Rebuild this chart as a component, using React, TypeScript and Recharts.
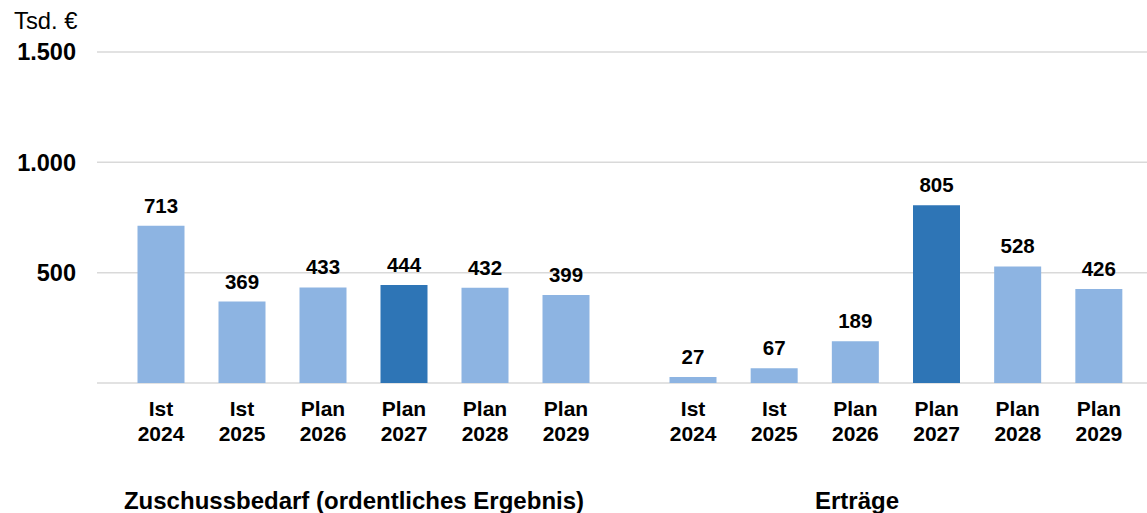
import React from 'react';
import { BarChart, Bar, XAxis, YAxis, CartesianGrid, Cell, LabelList } from 'recharts';

const categories = ['Ist 2024', 'Ist 2025', 'Plan 2026', 'Plan 2027', 'Plan 2028', 'Plan 2029'];
const zuschussValues = [713, 369, 433, 444, 432, 399];
const ertraegeValues = [27, 67, 189, 805, 528, 426];
const yTicks = [0, 500, 1000, 1500];
const highlightCategory = 'Plan 2027';
const groupTitles = ['Zuschussbedarf (ordentliches Ergebnis)', 'Erträge'];
const unitLabel = 'Tsd. €';

const LIGHT = '#8db4e2';
const DARK = '#2e75b6';
const GRID = '#d9d9d9';
const FONT = '"Liberation Sans", Arial, sans-serif';

const leftData = categories.map((name, i) => ({ name, value: zuschussValues[i] }));
const rightData = categories.map((name, i) => ({ name, value: ertraegeValues[i] }));

const formatDe = (v: number) => (v === 0 ? '' : String(v).replace(/\B(?=(\d{3})+(?!\d))/g, '.'));

function TwoLineTick(props: any) {
  const { x, y, payload } = props;
  const [first, second] = String(payload.value).split(' ');
  return (
    <text x={x} y={y} textAnchor="middle" fontFamily={FONT} fontWeight="bold" fontSize={21} fill="#000">
      <tspan x={x} dy={31}>{first}</tspan>
      <tspan x={x} dy={25}>{second}</tspan>
    </text>
  );
}

function GroupChart({ data, width, showAxis, padLeft, padRight }: any) {
  return (
    <BarChart
      width={width}
      height={513}
      data={data}
      margin={{ top: 52, right: 0, bottom: 0, left: 0 }}
      barCategoryGap={0}
    >
      <CartesianGrid vertical={false} stroke={GRID} strokeWidth={1.5} />
      <XAxis
        dataKey="name"
        height={130}
        axisLine={false}
        tickLine={false}
        tickSize={0}
        interval={0}
        padding={{ left: padLeft, right: padRight }}
        tick={<TwoLineTick />}
      />
      <YAxis
        hide={!showAxis}
        width={97}
        domain={[0, 1500]}
        ticks={yTicks}
        axisLine={false}
        tickLine={false}
        tickSize={0}
        tickMargin={21}
        tickFormatter={formatDe}
        tick={{ fill: '#000', fontSize: 23.5, fontWeight: 'bold', fontFamily: FONT }}
      />
      <Bar dataKey="value" barSize={47} isAnimationActive={false}>
        {data.map((d: any) => (
          <Cell key={d.name} fill={d.name === highlightCategory ? DARK : LIGHT} />
        ))}
        <LabelList
          dataKey="value"
          position="top"
          offset={13}
          fill="#000"
          fontSize={20.5}
          fontWeight="bold"
          fontFamily={FONT}
        />
      </Bar>
    </BarChart>
  );
}

export default function App() {
  return (
    <div
      style={{
        position: 'absolute',
        left: 0,
        top: 0,
        width: 1147,
        height: 513,
        background: '#fff',
        overflow: 'hidden',
        fontFamily: FONT,
      }}
    >
      <div style={{ position: 'absolute', left: 0, top: 0 }}>
        <GroupChart data={leftData} width={630} showAxis padLeft={23.5} padRight={23.5} />
      </div>
      <div style={{ position: 'absolute', left: 630, top: 0 }}>
        <GroupChart data={rightData} width={517} showAxis={false} padLeft={22.5} padRight={7.5} />
      </div>
      <div style={{ position: 'absolute', left: 14, top: 9, fontSize: 23.8, lineHeight: '23.8px', whiteSpace: 'nowrap' }}>
        {unitLabel}
      </div>
      <div
        style={{
          position: 'absolute',
          left: 354,
          top: 489,
          transform: 'translateX(-50%)',
          fontSize: 24,
          lineHeight: '24px',
          fontWeight: 'bold',
          whiteSpace: 'nowrap',
        }}
      >
        {groupTitles[0]}
      </div>
      <div
        style={{
          position: 'absolute',
          left: 857,
          top: 489,
          transform: 'translateX(-50%)',
          fontSize: 24,
          lineHeight: '24px',
          fontWeight: 'bold',
          whiteSpace: 'nowrap',
        }}
      >
        {groupTitles[1]}
      </div>
    </div>
  );
}
